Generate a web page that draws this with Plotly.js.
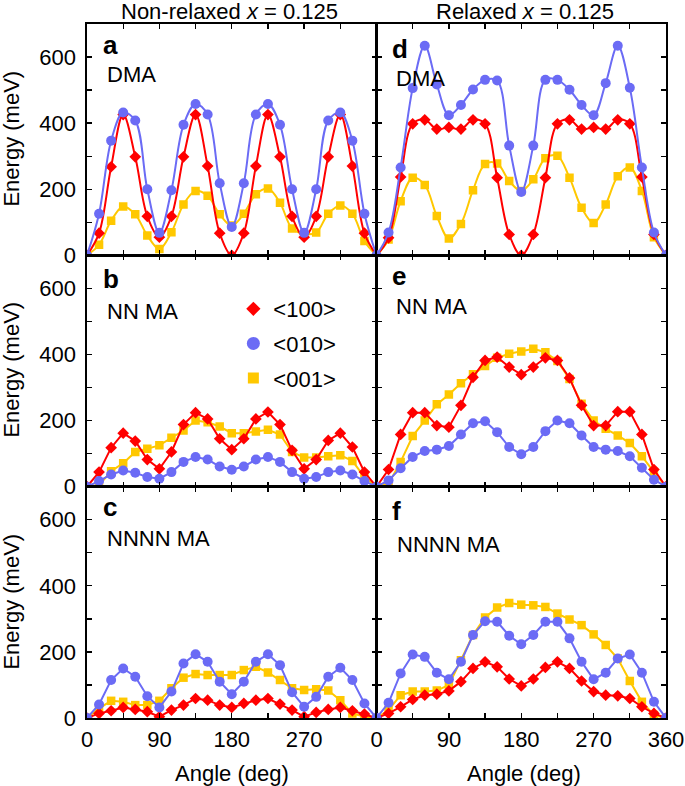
<!DOCTYPE html>
<html>
<head>
<meta charset="utf-8">
<script src="https://cdn.plot.ly/plotly-3.0.1.min.js"></script>
<style>html,body{margin:0;padding:0;background:#fff;}#chart{width:685px;height:786px;}</style>
</head>
<body>
<div id="chart"></div>
<script>
// ---------- data ----------
const angle = [0,15,30,45,60,75,90,105,120,135,150,165,180,195,210,225,240,255,270,285,300,315,330,345,360];

// Non-relaxed, DMA (panel a)
const a100 = [0,67,268,426,298,118,55,118,298,426,270,67,0,67,270,426,298,118,55,118,298,426,270,67,0];
const a010 = [0,126,347,432,408,200,68,197,395,458,426,218,86,218,426,458,395,200,68,200,408,432,347,126,0];
const a001 = [0,32,105,148,124,60,19,70,154,195,180,124,90,126,185,202,159,81,65,69,126,151,126,43,0];

// Relaxed, DMA (panel d)
const d100 = [0,53,237,398,410,382,387,382,410,398,235,63,0,63,235,398,410,382,387,382,410,398,237,63,0];
const d010 = [0,69,266,506,634,517,424,455,502,531,529,332,192,332,531,531,501,455,424,521,634,507,266,69,0];
const d001 = [0,48,164,235,213,119,51,95,197,276,278,225,195,230,294,301,235,144,98,154,239,266,195,55,0];

// Non-relaxed, NN MA (panel b)
const b100 = [0,44,118,162,138,82,54,105,188,224,205,145,112,145,205,226,188,110,54,82,140,162,120,44,0];
const b010 = [0,17,37,49,42,29,24,44,75,90,82,61,51,61,82,90,75,44,24,29,44,49,37,17,0];
const b001 = [0,4,47,71,105,115,125,148,170,200,195,182,162,162,167,172,158,105,88,88,92,95,78,29,0];

// Relaxed, NN MA (panel e)
const e100 = [0,52,158,224,224,185,180,246,331,382,392,362,339,362,390,382,329,246,185,185,227,227,158,52,0];
const e010 = [0,19,56,90,108,112,123,158,192,198,165,120,98,120,168,200,192,155,120,112,108,92,57,21,0];
const e001 = [0,9,75,153,200,249,279,313,340,365,390,402,409,417,407,380,326,251,200,175,155,132,92,44,0];

// Non-relaxed, NNNN MA (panel c)
const c100 = [0,14,22,32,26,19,4,24,39,59,54,39,32,44,54,59,42,24,4,17,26,32,22,12,0];
const c010 = [0,41,115,150,125,66,32,80,165,193,170,110,72,110,170,193,160,78,34,64,125,152,115,44,0];
const c001 = [0,29,52,49,39,39,52,90,122,133,130,130,130,145,155,138,115,90,85,87,83,54,14,4,0];

// Relaxed, NNNN MA (panel f)
const f100 = [0,14,34,56,69,72,82,110,150,170,155,118,97,118,153,170,150,112,80,69,67,59,34,14,0];
const f010 = [0,46,135,192,185,137,117,170,251,293,291,249,223,251,291,291,241,170,117,137,180,192,137,49,0];
const f001 = [0,24,69,80,80,83,100,175,251,304,334,348,343,341,336,316,298,281,253,221,180,112,49,9,0];

const seriesNames = ['<100>','<010>','<001>'];
const panelLetters = ['a','d','b','e','c','f'];
const panelLabels = ['DMA','DMA','NN MA','NN MA','NNNN MA','NNNN MA'];
const columnTitles = ['Non-relaxed <i>x</i> = 0.125','Relaxed <i>x</i> = 0.125'];
const xTitle = 'Angle (deg)';
const yTitle = 'Energy (meV)';
const xTickVals = [0,45,90,135,180,225,270,315,360];
const xTickTextLeft = ['0','','90','','180','','270','',''];
const xTickTextRight = ['0','','90','','180','','270','','360'];
const yTickVals = [0,100,200,300,400,500,600,700];
const yTickText = ['0','','200','','400','','600',''];

// ---------- style ----------
const RED = '#ff0000', BLUE = '#6b6bf5', GOLD = '#ffc800';
const FONT = 'Liberation Sans, Arial, Helvetica, sans-serif';
const W = 685, H = 786;
const M = {l: 86.5, r: 19, t: 24, b: 68};
const PW = W - M.l - M.r, PH = H - M.t - M.b;
const fx = px => (px - M.l) / PW;
const fy = py => 1 - (py - M.t) / PH;

const panels = [
  {d:[a100,a010,a001], spline:true},
  {d:[d100,d010,d001], spline:true},
  {d:[b100,b010,b001], spline:false},
  {d:[e100,e010,e001], spline:false},
  {d:[c100,c010,c001], spline:false},
  {d:[f100,f010,f001], spline:false}
];

const traces = [];
const colors = [RED, BLUE, GOLD];
const symbols = ['diamond','circle','square'];
const msize = [9, 10, 8.5];
const drawOrder = [2, 0, 1]; // gold, red, blue
panels.forEach((p, i) => {
  const ax = i === 0 ? '' : String(i + 1);
  drawOrder.forEach(k => {
    traces.push({
      x: angle, y: p.d[k], xaxis: 'x' + ax, yaxis: 'y' + ax,
      type: 'scatter', mode: 'lines+markers', showlegend: false,
      line: {color: colors[k], width: 2, shape: p.spline ? 'spline' : 'linear', smoothing: 1},
      marker: {color: colors[k], symbol: symbols[k], size: msize[k]},
      hoverinfo: 'skip'
    });
  });
});
// legend entries (markers only)
const legSize = [11, 13, 11];
[0,1,2].forEach(k => {
  traces.push({
    x: [null], y: [null], xaxis: 'x3', yaxis: 'y3', type: 'scatter', mode: 'markers',
    name: seriesNames[k], legendgroup: 'g' + k, showlegend: true,
    marker: {color: colors[k], symbol: symbols[k], size: legSize[k]}
  });
});

const layout = {
  width: W, height: H,
  margin: {l: M.l, r: M.r, t: M.t, b: M.b, pad: 0},
  paper_bgcolor: '#fff', plot_bgcolor: '#fff',
  font: {family: FONT, size: 22, color: '#000'},
  showlegend: true,
  legend: {x: fx(233), y: fy(288), xanchor: 'left', yanchor: 'top',
           bgcolor: 'rgba(0,0,0,0)', borderwidth: 0, font: {size: 22, family: FONT},
           traceorder: 'grouped', tracegroupgap: 3, itemclick: false},
  annotations: []
};

const colDom = [[0, 0.5], [0.5, 1]];
const rowDom = [[2/3, 1], [1/3, 2/3], [0, 1/3]];
for (let i = 0; i < 6; i++) {
  const ax = i === 0 ? '' : String(i + 1);
  const col = i % 2, row = Math.floor(i / 2);
  const bottom = row === 2;
  layout['xaxis' + ax] = {
    domain: colDom[col], anchor: 'y' + ax, range: [0, 360], fixedrange: true,
    tickmode: 'array', tickvals: xTickVals,
    ticktext: col === 0 ? xTickTextLeft : xTickTextRight,
    showticklabels: bottom, ticks: 'inside', ticklen: 5, tickwidth: 1.3, tickcolor: '#000',
    showline: true, linecolor: '#000', linewidth: 1.6, mirror: 'ticks',
    showgrid: false, zeroline: false, ticklabelstandoff: 1,
    tickfont: {size: 22, family: FONT}
  };
  layout['yaxis' + ax] = {
    domain: rowDom[row], anchor: 'x' + ax, range: [0, 700], fixedrange: true,
    tickmode: 'array', tickvals: yTickVals, ticktext: yTickText,
    showticklabels: col === 0, ticks: 'inside', ticklen: 5, tickwidth: 1.3, tickcolor: '#000',
    showline: true, linecolor: '#000', linewidth: 1.6, mirror: 'ticks',
    showgrid: false, zeroline: false, ticklabelstandoff: 5,
    tickfont: {size: 22, family: FONT}
  };
}

// panel letters & labels
const letterPos = [[101,45],[390,49],[101,279],[390,276],[101,507],[390,511]];
const labelPos = [[105,75],[394,79],[105,311],[394,307],[105,538],[395,544]];
for (let i = 0; i < 6; i++) {
  layout.annotations.push({xref:'paper', yref:'paper', x: fx(letterPos[i][0]), y: fy(letterPos[i][1]),
    xanchor:'left', yanchor:'middle', showarrow:false, text:'<b>' + panelLetters[i] + '</b>',
    font:{size: 26, family: FONT}});
  layout.annotations.push({xref:'paper', yref:'paper', x: fx(labelPos[i][0]), y: fy(labelPos[i][1]),
    xanchor:'left', yanchor:'middle', showarrow:false, text: panelLabels[i],
    font:{size: 22, family: FONT}});
}
// column titles
[[229, 12],[525, 12]].forEach((p, i) => {
  layout.annotations.push({xref:'paper', yref:'paper', x: fx(p[0]), y: fy(p[1]),
    xanchor:'center', yanchor:'middle', showarrow:false, text: columnTitles[i],
    font:{size: 22, family: FONT}});
});
// x titles
[231.5, 524].forEach(px => {
  layout.annotations.push({xref:'paper', yref:'paper', x: fx(px), y: fy(773),
    xanchor:'center', yanchor:'middle', showarrow:false, text: xTitle,
    font:{size: 22, family: FONT}});
});
// y titles
[139, 370, 602].forEach(py => {
  layout.annotations.push({xref:'paper', yref:'paper', x: fx(10), y: fy(py),
    xanchor:'center', yanchor:'middle', showarrow:false, text: yTitle, textangle: -90,
    font:{size: 22, family: FONT}});
});

Plotly.newPlot('chart', traces, layout, {staticPlot: true, displayModeBar: false});
</script>
</body>
</html>
